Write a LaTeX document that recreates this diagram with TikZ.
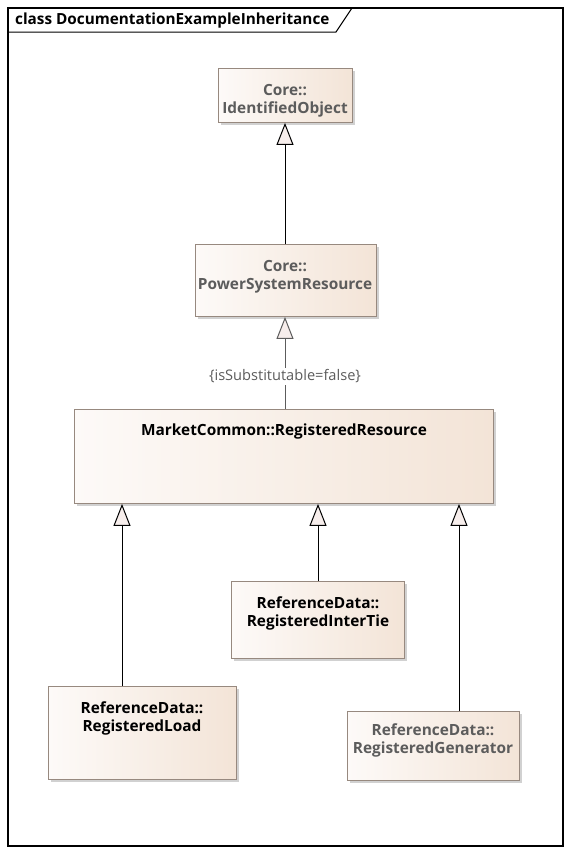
\documentclass[tikz,border=0pt]{standalone}
\usepackage{fontspec}
\setmainfont{Open Sans}
\usetikzlibrary{arrows.meta,shadows}
\definecolor{boxL}{HTML}{FDFAF8}
\definecolor{boxR}{HTML}{F3E4D7}
\definecolor{boxDraw}{HTML}{97897F}
\definecolor{grayText}{HTML}{5C5C5C}
\definecolor{tipFill}{HTML}{F7EEEC}
\tikzset{
  cls/.style={draw=boxDraw, line width=0.9pt, left color=boxL, right color=boxR, anchor=north west, inner sep=0pt,
    drop shadow={shadow xshift=3pt, shadow yshift=-3pt, fill=black!30, opacity=0.6}},
  clstext/.style={font=\bfseries\fontsize{15.4}{18}\selectfont, align=center, inner sep=0pt, anchor=north},
  gen/.style={line width=1pt, -{Triangle[open, length=22pt, width=17pt, fill=tipFill]}},
}
\begin{document}
\begin{tikzpicture}[x=1pt,y=-1pt]
\useasboundingbox (0,0) rectangle (570,854);
% frame
\draw[line width=1.2pt] (8,8) rectangle (563,846);
\draw[line width=1pt] (8,32) -- (336,32) -- (352,8);
\node[anchor=west, inner sep=0pt, font=\bfseries\fontsize{15.3}{17}\selectfont] (title) at (15,20.5) {class DocumentationExampleInheritance};

% classes
\node[cls, minimum width=134pt, minimum height=54pt] (io) at (218,68) {};
\node[clstext, text=grayText] (iot) at (285,84) {Core::\\IdentifiedObject};

\node[cls, minimum width=181pt, minimum height=72pt] (psr) at (195,244) {};
\node[clstext, text=grayText] (psrt) at (285,260) {Core::\\PowerSystemResource};

\node[cls, minimum width=419pt, minimum height=94pt] (rr) at (74,409) {};
\node[clstext] (rrt) at (284,424) {MarketCommon::RegisteredResource};

\node[cls, minimum width=173pt, minimum height=77pt] (it) at (231,581) {};
\node[clstext] (itt) at (318,597) {ReferenceData::\\RegisteredInterTie};

\node[cls, minimum width=188pt, minimum height=93pt] (ld) at (48,686) {};
\node[clstext] (ldt) at (142,702) {ReferenceData::\\RegisteredLoad};

\node[cls, minimum width=172pt, minimum height=69pt] (gn) at (347,711) {};
\node[clstext, text=grayText] (gnt) at (433,724) {ReferenceData::\\RegisteredGenerator};

% generalizations
\draw[gen] (psr.north -| 285,0) -- (io.south -| 285,0);
\draw[gen, draw=grayText] (rr.north -| 285,0) -- node[pos=0.355, fill=white, inner sep=1.5pt, text=grayText, font=\fontsize{14.6}{16}\selectfont] (lbl) {\{isSubstitutable=false\}} (psr.south -| 285,0);
\draw[gen] (ld.north -| 122,0) -- (rr.south -| 122,0);
\draw[gen] (it.north -| 318,0) -- (rr.south -| 318,0);
\draw[gen] (gn.north -| 459,0) -- (rr.south -| 459,0);
\end{tikzpicture}
\end{document}
